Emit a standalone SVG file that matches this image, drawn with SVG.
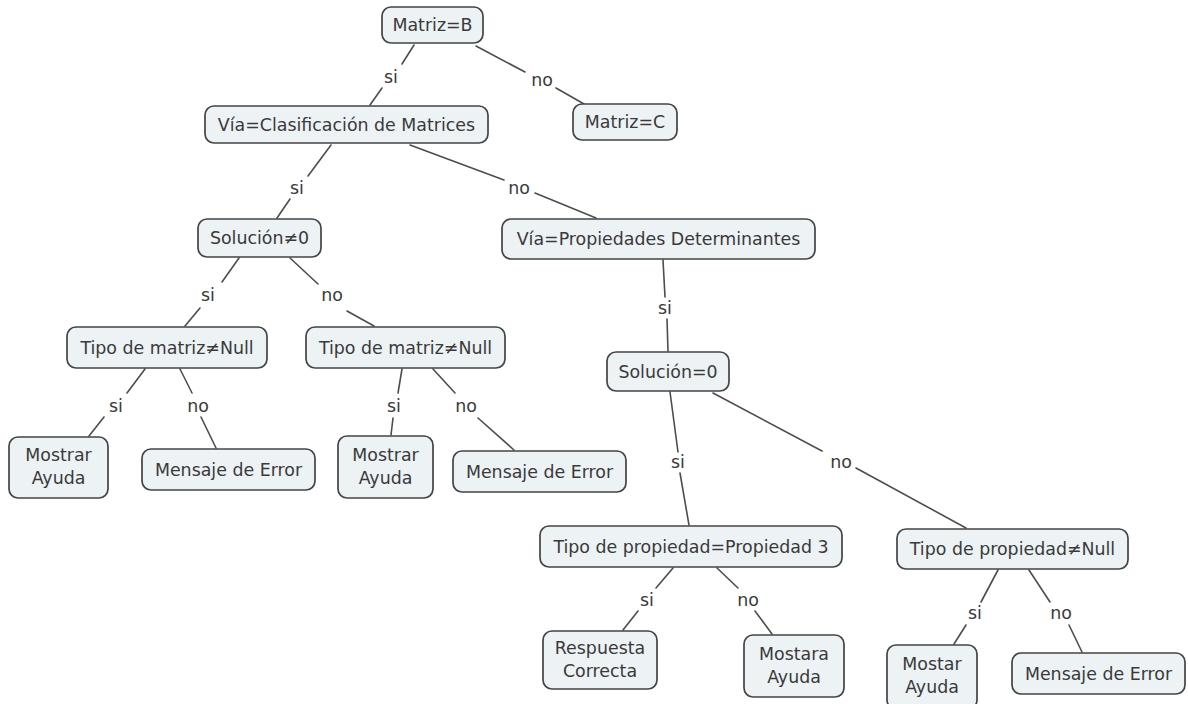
<svg xmlns="http://www.w3.org/2000/svg" width="1188" height="704" viewBox="0 0 1188 704">
  <style>
    .node rect { fill: #edf2f5; stroke: #444444; stroke-width: 1.7; }
    .node text, .lbl { font-family: "DejaVu Sans", Verdana, sans-serif; font-size: 17.4px; fill: #3a3a3a; text-anchor: middle; }
    #connectors line { stroke: #4d4d4d; stroke-width: 1.6; stroke-linecap: round; }
  </style>
  <rect x="0" y="0" width="1188" height="704" fill="#ffffff"/>

  <!-- connectors: each link is two segments with its label in the gap -->
  <g id="connectors">
    <line x1="414" y1="45" x2="402" y2="64"/><line x1="382" y1="88" x2="370" y2="105"/>
    <text class="lbl" x="391" y="83">si</text>
    <line x1="476" y1="46" x2="525" y2="72"/><line x1="556" y1="88" x2="584" y2="104"/>
    <text class="lbl" x="542" y="86">no</text>

    <line x1="331" y1="145" x2="308" y2="176"/><line x1="290" y1="199" x2="277" y2="218"/>
    <text class="lbl" x="297" y="194">si</text>
    <line x1="410" y1="145" x2="504" y2="180"/><line x1="535" y1="193" x2="596" y2="218"/>
    <text class="lbl" x="519" y="194">no</text>

    <line x1="239" y1="258" x2="222" y2="282"/><line x1="200" y1="308" x2="185" y2="326"/>
    <text class="lbl" x="208" y="301">si</text>
    <line x1="290" y1="258" x2="318" y2="284"/><line x1="347" y1="311" x2="374" y2="326"/>
    <text class="lbl" x="332" y="301">no</text>

    <line x1="663" y1="260" x2="665" y2="297"/><line x1="667" y1="319" x2="668" y2="351"/>
    <text class="lbl" x="665" y="314">si</text>

    <line x1="145" y1="369" x2="127" y2="393"/><line x1="104" y1="417" x2="89" y2="436"/>
    <text class="lbl" x="116" y="412">si</text>
    <line x1="180" y1="369" x2="192" y2="393"/><line x1="201" y1="417" x2="216" y2="448"/>
    <text class="lbl" x="198" y="412">no</text>

    <line x1="402" y1="369" x2="398" y2="393"/><line x1="393" y1="418" x2="391" y2="435"/>
    <text class="lbl" x="394" y="412">si</text>
    <line x1="433" y1="369" x2="455" y2="393"/><line x1="478" y1="418" x2="514" y2="450"/>
    <text class="lbl" x="466" y="412">no</text>

    <line x1="670" y1="392" x2="678" y2="452"/><line x1="680" y1="473" x2="689" y2="525"/>
    <text class="lbl" x="678" y="468">si</text>
    <line x1="713" y1="393" x2="822" y2="451"/><line x1="856" y1="468" x2="966" y2="528"/>
    <text class="lbl" x="841" y="468">no</text>

    <line x1="673" y1="568" x2="656" y2="588"/><line x1="638" y1="611" x2="623" y2="630"/>
    <text class="lbl" x="647" y="606">si</text>
    <line x1="717" y1="568" x2="738" y2="588"/><line x1="755" y1="611" x2="772" y2="634"/>
    <text class="lbl" x="748" y="606">no</text>

    <line x1="998" y1="570" x2="981" y2="602"/><line x1="966" y1="625" x2="954" y2="644"/>
    <text class="lbl" x="975" y="619">si</text>
    <line x1="1029" y1="570" x2="1050" y2="602"/><line x1="1069" y1="625" x2="1082" y2="652"/>
    <text class="lbl" x="1061" y="619">no</text>
  </g>

  <g id="n-matriz-b" class="node"><rect x="382" y="7" width="101" height="36" rx="9"/><text x="432.5" y="31">Matriz=B</text></g>
  <g id="n-clasificacion" class="node"><rect x="205" y="106" width="283" height="37" rx="9"/><text x="346.5" y="130.5">Vía=Clasificación de Matrices</text></g>
  <g id="n-matriz-c" class="node"><rect x="573" y="104" width="104" height="36" rx="9"/><text x="625" y="128">Matriz=C</text></g>
  <g id="n-solucion-ne" class="node"><rect x="198" y="219" width="123" height="38" rx="9"/><text x="259.5" y="244">Solución≠0</text></g>
  <g id="n-propiedades" class="node"><rect x="502" y="219" width="313" height="40" rx="9"/><text x="658.5" y="245">Vía=Propiedades Determinantes</text></g>
  <g id="n-tipo-matriz-1" class="node"><rect x="67" y="327" width="200" height="41" rx="9"/><text x="167" y="353.5">Tipo de matriz≠Null</text></g>
  <g id="n-tipo-matriz-2" class="node"><rect x="306" y="327" width="199" height="41" rx="9"/><text x="405.5" y="353.5">Tipo de matriz≠Null</text></g>
  <g id="n-solucion-eq" class="node"><rect x="607" y="352" width="122" height="39" rx="9"/><text x="668" y="377.5">Solución=0</text></g>
  <g id="n-ayuda-1" class="node"><rect x="9" y="437" width="99" height="61" rx="9"/><text x="58.5" y="461">Mostrar</text><text x="58.5" y="484">Ayuda</text></g>
  <g id="n-error-1" class="node"><rect x="142" y="449" width="173" height="41" rx="9"/><text x="228.5" y="475.5">Mensaje de Error</text></g>
  <g id="n-ayuda-2" class="node"><rect x="338" y="436" width="95" height="62" rx="9"/><text x="385.5" y="460.5">Mostrar</text><text x="385.5" y="483.5">Ayuda</text></g>
  <g id="n-error-2" class="node"><rect x="453" y="451" width="173" height="41" rx="9"/><text x="539.5" y="477.5">Mensaje de Error</text></g>
  <g id="n-propiedad-3" class="node"><rect x="540" y="526" width="302" height="41" rx="9"/><text x="691" y="552.5">Tipo de propiedad=Propiedad 3</text></g>
  <g id="n-propiedad-null" class="node"><rect x="897" y="529" width="231" height="40" rx="9"/><text x="1012.5" y="555">Tipo de propiedad≠Null</text></g>
  <g id="n-respuesta" class="node"><rect x="543" y="631" width="114" height="58" rx="9"/><text x="600" y="654">Respuesta</text><text x="600" y="677">Correcta</text></g>
  <g id="n-ayuda-3" class="node"><rect x="744" y="635" width="100" height="62" rx="9"/><text x="794" y="660">Mostara</text><text x="794" y="683">Ayuda</text></g>
  <g id="n-ayuda-4" class="node"><rect x="887" y="645" width="90" height="64" rx="9"/><text x="932" y="670">Mostar</text><text x="932" y="693">Ayuda</text></g>
  <g id="n-error-3" class="node"><rect x="1012" y="653" width="173" height="41" rx="9"/><text x="1098.5" y="679.5">Mensaje de Error</text></g>
</svg>
